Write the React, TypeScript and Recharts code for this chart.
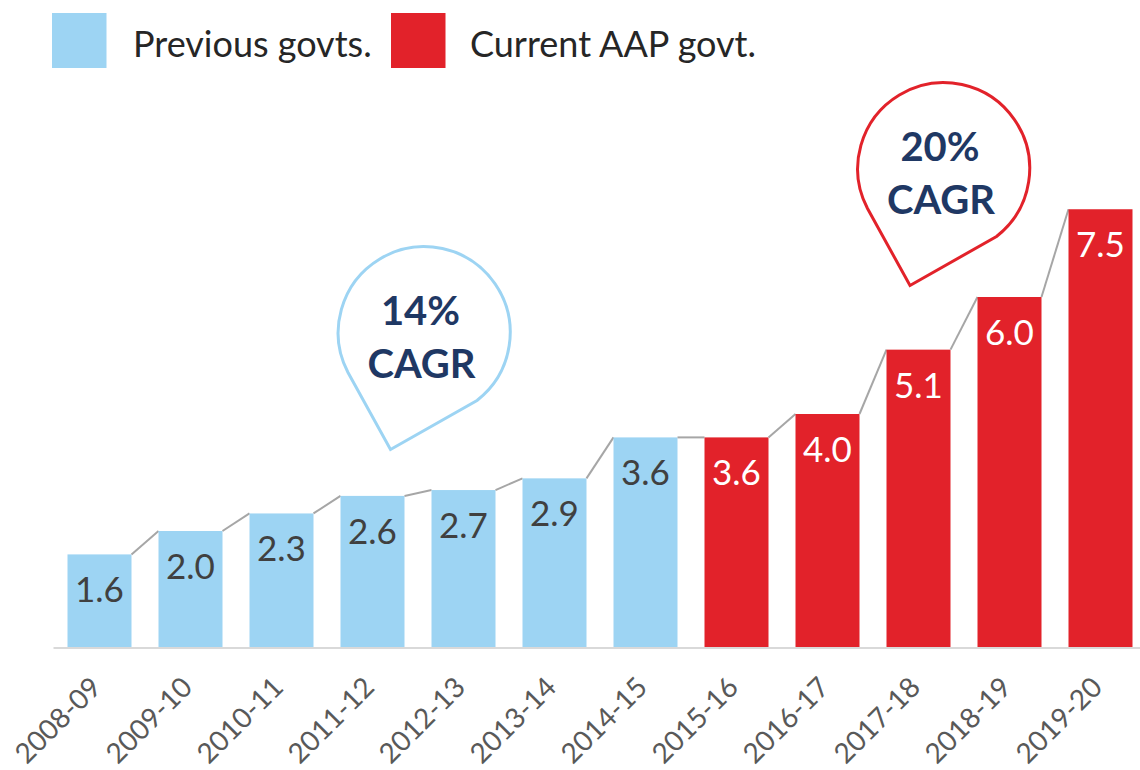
import React from 'react';
import { BarChart, Bar, XAxis, YAxis, Cell, LabelList, Customized } from 'recharts';

const years = ['2008-09', '2009-10', '2010-11', '2011-12', '2012-13', '2013-14', '2014-15', '2015-16', '2016-17', '2017-18', '2018-19', '2019-20'];
const values = [1.6, 2.0, 2.3, 2.6, 2.7, 2.9, 3.6, 3.6, 4.0, 5.1, 6.0, 7.5];
const govts = ['prev', 'prev', 'prev', 'prev', 'prev', 'prev', 'prev', 'aap', 'aap', 'aap', 'aap', 'aap'];
const legendItems = [
  { key: 'prev', label: 'Previous govts.' },
  { key: 'aap', label: 'Current AAP govt.' },
];
const bubbleTexts = [
  { key: 'prev', line1: '14%', line2: 'CAGR' },
  { key: 'aap', line1: '20%', line2: 'CAGR' },
];

const COLORS: Record<string, string> = { prev: '#9DD4F3', aap: '#E2222A' };
const LABEL_COLORS: Record<string, string> = { prev: '#404040', aap: '#FFFFFF' };
const FONT = 'Lato, "Open Sans", sans-serif';

const CHART_W = 1150;
const CHART_H = 770;
const M = { top: 180, right: 4.5, left: 53.5, bottom: 92 };
const PLOT_W = CHART_W - M.left - M.right;
const BAND = PLOT_W / years.length;

const data = years.map((year, i) => ({ year, value: values[i], govt: govts[i] }));

const BarShape = (props: any) => {
  const { x, y, width, height, index } = props;
  const fill = COLORS[govts[index]];
  let connector = null;
  if (index < values.length - 1) {
    const base = y + height;
    const yNext = base - (height * values[index + 1]) / values[index];
    connector = (
      <line x1={x + width} y1={y} x2={x + BAND} y2={yNext} stroke="#A6A6A6" strokeWidth={2} />
    );
  }
  return (
    <g>
      <rect x={x} y={y} width={width} height={height} fill={fill} />
      {connector}
    </g>
  );
};

const ValueLabel = (props: any) => {
  const { x, y, width, value, index } = props;
  return (
    <text
      x={x + width / 2}
      y={y + 48}
      textAnchor="middle"
      fontFamily={FONT}
      fontSize={35}
      fill={LABEL_COLORS[govts[index]]}
    >
      {Number(value).toFixed(1)}
    </text>
  );
};

const YearTick = (props: any) => {
  const { x, payload } = props;
  const px = x + 4;
  const py = 689;
  return (
    <text
      x={px}
      y={py}
      textAnchor="end"
      transform={`rotate(-45, ${px}, ${py})`}
      fontFamily={FONT}
      fontSize={28}
      fill="#595959"
    >
      {payload.value}
    </text>
  );
};

const bubblePath = (cx: number, cy: number) => {
  const r = 86;
  const lx = cx - 73.5, ly = cy + 39;
  const rx = cx + 55.5, ry = cy + 67;
  const tx = cx - 31, ty = cy + 116;
  return `M ${lx} ${ly} A ${r} ${r} 0 1 1 ${rx} ${ry} L ${tx} ${ty} Z`;
};

const bubbleCenters: Record<string, [number, number]> = {
  prev: [421.5, 333.5],
  aap: [941, 169.5],
};

const Overlay = () => (
  <g>
    {legendItems.map((item, i) => {
      const sx = i === 0 ? 52 : 391;
      const tx = i === 0 ? 133 : 470;
      return (
        <g key={item.key}>
          <rect x={sx} y={13} width={54.5} height={55} fill={COLORS[item.key]} />
          <text x={tx} y={57} fontFamily={FONT} fontSize={36} fill="#262626">
            {item.label}
          </text>
        </g>
      );
    })}
    {bubbleTexts.map((b) => {
      const [cx, cy] = bubbleCenters[b.key];
      return (
        <g key={b.key}>
          <path d={bubblePath(cx, cy)} fill="#FFFFFF" stroke={COLORS[b.key]} strokeWidth={3} strokeLinejoin="miter" />
          <text x={cx - 1} y={cy - 9} textAnchor="middle" fontFamily={FONT} fontWeight={700} fontSize={40} fill="#1F3864">
            {b.line1}
          </text>
          <text x={cx} y={cy + 44} textAnchor="middle" fontFamily={FONT} fontWeight={700} fontSize={40} fill="#1F3864">
            {b.line2}
          </text>
        </g>
      );
    })}
  </g>
);

export default function App() {
  return (
    <div style={{ position: 'absolute', left: 0, top: 0, width: 1140, height: 770, overflow: 'hidden', background: '#fff', fontFamily: FONT }}>
      <BarChart width={CHART_W} height={CHART_H} data={data} margin={M}>
        <XAxis
          dataKey="year"
          height={30}
          axisLine={{ stroke: '#D9D9D9', strokeWidth: 2 }}
          tickLine={false}
          interval={0}
          tick={<YearTick />}
        />
        <YAxis hide domain={[0, 8]} />
        <Bar dataKey="value" barSize={64} isAnimationActive={false} shape={<BarShape />}>
          {data.map((d) => (
            <Cell key={d.year} fill={COLORS[d.govt]} />
          ))}
          <LabelList dataKey="value" content={<ValueLabel />} />
        </Bar>
        <Customized component={<Overlay />} />
      </BarChart>
    </div>
  );
}
